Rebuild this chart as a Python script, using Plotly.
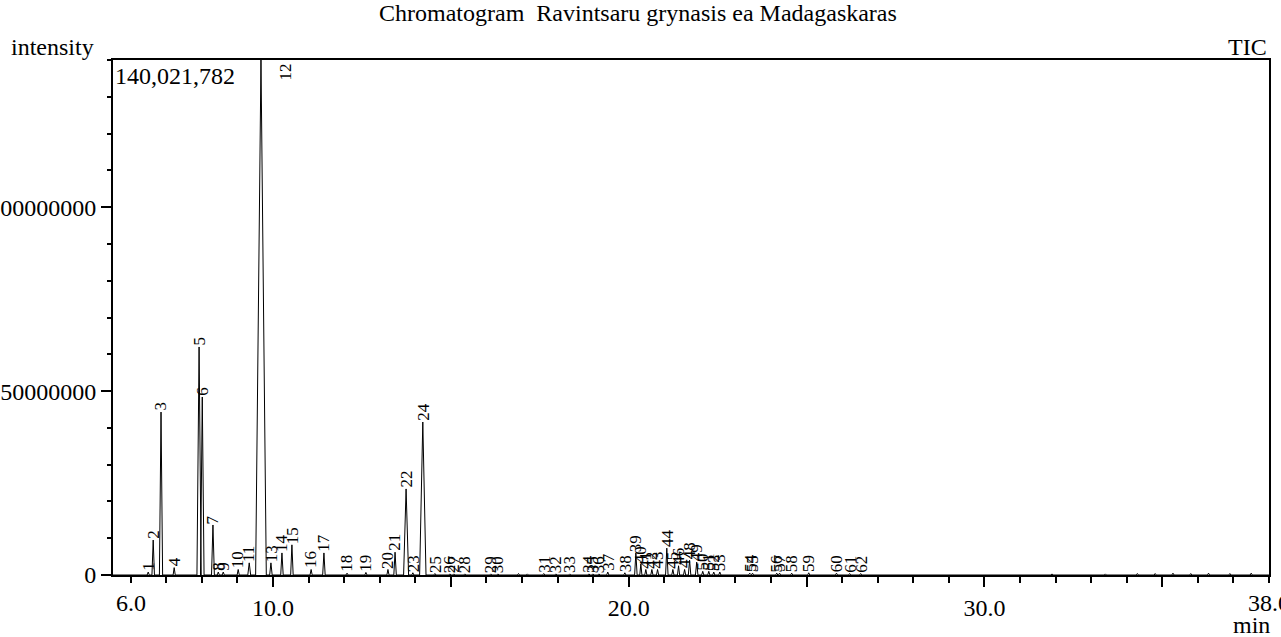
import plotly.graph_objects as go

# ---- data ----
peak_no = list(range(1, 63))
peak_rt = [6.49, 6.63, 6.85, 7.22, 7.92, 8.01, 8.31, 8.46, 8.60, 9.02,
           9.33, 9.66, 9.94, 10.25, 10.53, 11.07, 11.43, 12.08, 12.61, 13.23,
           13.43, 13.74, 13.93, 14.21, 14.55, 14.97, 15.08, 15.39, 16.12, 16.32,
           17.61, 17.95, 18.34, 18.88, 18.99, 19.16, 19.41, 19.89, 20.20, 20.34,
           20.48, 20.65, 20.81, 21.07, 21.24, 21.40, 21.57, 21.71, 21.91, 22.08,
           22.25, 22.39, 22.56, 23.40, 23.48, 24.16, 24.24, 24.58, 25.06, 25.84,
           26.21, 26.52]
peak_height = [0.8e6, 9.5e6, 44.3e6, 2.0e6, 62.0e6, 48.4e6, 13.6e6, 0.8e6, 0.8e6, 1.5e6,
               3.3e6, 140021782, 3.3e6, 6.0e6, 8.2e6, 1.5e6, 6.0e6, 0.5e6, 0.7e6, 1.5e6,
               6.2e6, 23.4e6, 0.6e6, 41.6e6, 0.4e6, 0.3e6, 0.3e6, 0.3e6, 0.3e6, 0.3e6,
               0.4e6, 0.3e6, 0.3e6, 0.3e6, 0.3e6, 0.3e6, 0.8e6, 0.6e6, 6.0e6, 3.0e6,
               1.5e6, 1.5e6, 1.5e6, 7.3e6, 1.5e6, 2.5e6, 1.5e6, 4.0e6, 3.5e6, 1.0e6,
               1.0e6, 0.8e6, 0.8e6, 0.5e6, 0.5e6, 0.5e6, 0.5e6, 0.5e6, 0.6e6, 0.5e6,
               0.4e6, 0.4e6]
peak_halfwidth = [0.03, 0.035, 0.045, 0.03, 0.06, 0.05, 0.04, 0.03, 0.03, 0.03,
                  0.04, 0.15, 0.035, 0.035, 0.035, 0.03, 0.035, 0.03, 0.03, 0.03,
                  0.035, 0.07, 0.03, 0.09, 0.03, 0.03, 0.03, 0.03, 0.03, 0.03,
                  0.03, 0.03, 0.03, 0.03, 0.03, 0.03, 0.03, 0.03, 0.035, 0.03,
                  0.03, 0.03, 0.03, 0.035, 0.03, 0.03, 0.03, 0.035, 0.035, 0.03,
                  0.03, 0.03, 0.03, 0.03, 0.03, 0.03, 0.03, 0.03, 0.03, 0.03,
                  0.03, 0.03]
# small unlabelled bumps on the baseline
minor_rt = [16.9, 17.15, 31.9, 33.4, 34.3, 34.8, 35.3, 35.8, 36.3, 36.9, 37.5]
minor_height = [0.4e6, 0.3e6, 0.3e6, 0.3e6, 0.4e6, 0.4e6, 0.5e6, 0.4e6, 0.5e6, 0.4e6, 0.5e6]

x_range = [5.5, 38.0]
y_max = 140021782
x_major = [10, 15, 20, 25, 30, 35]
x_major_text = ["10.0", "", "20.0", "", "30.0", ""]
x_edge_labels = [(6.0, "6.0"), (38.0, "38.0")]
y_ticks = [0, 50000000, 100000000]
y_tick_text = ["0", "50000000", "100000000"]

FONT = "Liberation Serif, Times New Roman, serif"
FS = 24
LFS = 17

# ---- build the signal polyline from the peak table ----
segs = [(rt, h, w) for rt, h, w in zip(peak_rt, peak_height, peak_halfwidth)]
segs += [(rt, h, 0.03) for rt, h in zip(minor_rt, minor_height)]
segs.sort(key=lambda s: s[0])
xs = [x_range[0]]
ys = [0]
for rt, h, w in segs:
    xs += [rt - w, rt, rt + w]
    ys += [0, h, 0]
xs.append(x_range[1])
ys.append(0)

fig = go.Figure()
fig.add_trace(go.Scatter(x=xs, y=ys, mode="lines",
                         line=dict(color="black", width=1), hoverinfo="skip",
                         showlegend=False))

annotations = []
for n, rt, h in zip(peak_no, peak_rt, peak_height):
    if h >= y_max:
        annotations.append(dict(x=rt, y=y_max, xref="x", yref="y", text=str(n),
                                textangle=-90, showarrow=False, xanchor="center",
                                yanchor="top", xshift=25, yshift=-1,
                                font=dict(family=FONT, size=LFS, color="black")))
    else:
        annotations.append(dict(x=rt, y=h, xref="x", yref="y", text=str(n),
                                textangle=-90, showarrow=False, xanchor="center",
                                yanchor="bottom", yshift=-1,
                                font=dict(family=FONT, size=LFS, color="black")))

for xv, txt in x_edge_labels:
    annotations.append(dict(x=xv, y=0, xref="x", yref="paper", text=txt,
                            showarrow=False, xanchor="center", yanchor="middle",
                            yshift=-28, font=dict(family=FONT, size=FS, color="black")))

annotations += [
    dict(x=-0.09, y=1.025, xref="paper", yref="paper", text="intensity",
         showarrow=False, xanchor="left", yanchor="middle",
         font=dict(family=FONT, size=FS, color="black")),
    dict(x=1.0, y=1.025, xref="paper", yref="paper", text="TIC",
         showarrow=False, xanchor="right", yanchor="middle",
         font=dict(family=FONT, size=FS, color="black")),
    dict(x=0.0, y=1.0, xref="paper", yref="paper", text="140,021,782",
         showarrow=False, xanchor="left", yanchor="top", xshift=0, yshift=-1,
         font=dict(family=FONT, size=FS, color="black")),
    dict(x=0.985, y=0, xref="paper", yref="paper", text="min",
         showarrow=False, xanchor="center", yanchor="middle", yshift=-50,
         font=dict(family=FONT, size=FS, color="black")),
]

fig.update_layout(
    width=1281, height=637,
    margin=dict(l=113, r=12, t=60, b=62, autoexpand=False),
    paper_bgcolor="white", plot_bgcolor="white",
    title=dict(text="Chromatogram  Ravintsaru grynasis ea Madagaskaras",
               x=0.498, xref="container", xanchor="center",
               y=0.981, yref="container", yanchor="middle", automargin=False,
               font=dict(family=FONT, size=FS, color="black")),
    annotations=annotations,
    font=dict(family=FONT, size=FS, color="black"),
)
fig.update_xaxes(range=x_range, showline=True, linecolor="black", linewidth=2,
                 mirror=True, showgrid=False, zeroline=False, automargin=False,
                 tickmode="array", tickvals=x_major, ticktext=x_major_text,
                 ticks="outside", ticklen=10, tickwidth=2, tickcolor="black",
                 tickfont=dict(family=FONT, size=FS, color="black"),
                 minor=dict(tickmode="linear", tick0=0, dtick=1, ticks="outside",
                            ticklen=6, tickwidth=2, tickcolor="black", showgrid=False))
fig.update_yaxes(range=[0, y_max], showline=True, linecolor="black", linewidth=2,
                 mirror=True, showgrid=False, zeroline=False, automargin=False,
                 tickmode="array", tickvals=y_ticks, ticktext=y_tick_text,
                 ticks="outside", ticklen=10, tickwidth=2, tickcolor="black",
                 tickfont=dict(family=FONT, size=FS, color="black"),
                 minor=dict(tickmode="linear", tick0=0, dtick=10000000, ticks="outside",
                            ticklen=4, tickwidth=2, tickcolor="black", showgrid=False))

fig.write_html("out.html", config={"displayModeBar": False},
               post_script="document.body.style.margin='0';")
